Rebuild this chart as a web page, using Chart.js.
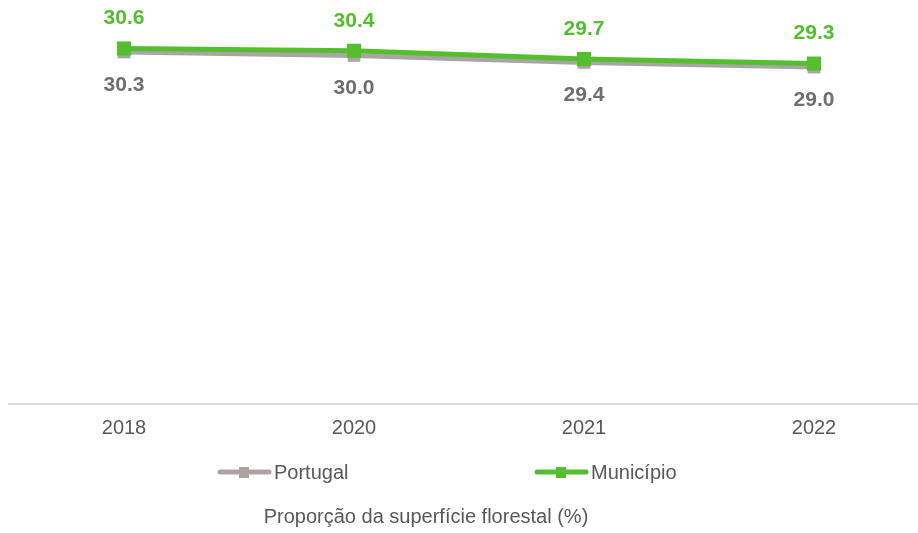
<!DOCTYPE html>
<html>
<head>
<meta charset="utf-8">
<script src="https://cdn.jsdelivr.net/npm/chart.js@4.4.1/dist/chart.umd.min.js"></script>
<style>
  html,body{margin:0;padding:0;background:#fff;overflow:hidden;}
  #forestChart{display:block;}
</style>
</head>
<body>
<canvas id="forestChart" width="929" height="533"></canvas>
<script>
// --- DATA ---
const years = ['2018', '2020', '2021', '2022'];
const portugalValues = [30.3, 30.0, 29.4, 29.0];
const municipioValues = [30.6, 30.4, 29.7, 29.3];
const seriesNames = ['Portugal', 'Município'];
const chartTitle = 'Proporção da superfície florestal (%)';

const GREEN = '#55be2f';
const GREY = '#a9a5a5';
const GREY_TEXT = '#6f6f6f';
const AXIS_TEXT = '#595959';
const FONT = '"Liberation Sans", Arial, sans-serif';

// value labels: municipality above its point, country below
const valueLabels = {
  id: 'valueLabels',
  afterDatasetsDraw(chart){
    const {ctx} = chart;
    ctx.save();
    ctx.font = `bold 21px ${FONT}`;
    ctx.textAlign = 'center';
    ctx.textBaseline = 'middle';
    chart.data.datasets.forEach((ds, i) => {
      const above = i === 1;
      ctx.fillStyle = above ? GREEN : GREY_TEXT;
      chart.getDatasetMeta(i).data.forEach((pt, j) => {
        ctx.fillText(ds.data[j].toFixed(1), pt.x, above ? pt.y - 30 : pt.y + 33);
      });
    });
    ctx.restore();
  }
};

// legend row + caption under the axis
const legendAndCaption = {
  id: 'legendAndCaption',
  afterDraw(chart){
    const {ctx} = chart;
    const y = 472;
    const items = [{x: 218, color: GREY}, {x: 535, color: GREEN}];
    ctx.save();
    ctx.font = `20px ${FONT}`;
    ctx.textBaseline = 'middle';
    items.forEach((it, i) => {
      ctx.strokeStyle = it.color;
      ctx.lineWidth = 5;
      ctx.lineCap = 'round';
      ctx.beginPath();
      ctx.moveTo(it.x + 2, y);
      ctx.lineTo(it.x + 51, y);
      ctx.stroke();
      ctx.fillStyle = it.color;
      ctx.fillRect(it.x + 21, y - 5, 10, 11);
      ctx.fillStyle = AXIS_TEXT;
      ctx.textAlign = 'left';
      ctx.fillText(chart.data.datasets[i].label, it.x + 56, y + 1);
    });
    ctx.textAlign = 'center';
    ctx.fillText(chartTitle, 426, 517);
    ctx.restore();
  }
};

new Chart(document.getElementById('forestChart'), {
  type: 'line',
  data: {
    labels: years,
    datasets: [
      {
        label: seriesNames[0], data: portugalValues,
        borderColor: GREY, backgroundColor: GREY, borderWidth: 5,
        pointStyle: 'rect', pointRadius: 9, pointBorderWidth: 0,
        order: 1
      },
      {
        label: seriesNames[1], data: municipioValues,
        borderColor: GREEN, backgroundColor: GREEN, borderWidth: 5,
        pointStyle: 'rect', pointRadius: 10, pointBorderWidth: 0,
        order: 0
      }
    ]
  },
  options: {
    animation: false,
    responsive: false,
    layout: {autoPadding: false, padding: {left: 9, right: 0, top: 9, bottom: 81}},
    plugins: {legend: {display: false}, tooltip: {enabled: false}},
    scales: {
      x: {
        offset: true,
        grid: {display: false, drawTicks: false},
        border: {color: '#d9d9d9', width: 2},
        ticks: {color: AXIS_TEXT, font: {family: FONT, size: 20}, padding: 12},
        afterFit(s){ s.height = 48; s.paddingLeft = 0; s.paddingRight = 0; }
      },
      y: {display: false, min: 0, max: 34}
    }
  },
  plugins: [valueLabels, legendAndCaption]
});
</script>
</body>
</html>
